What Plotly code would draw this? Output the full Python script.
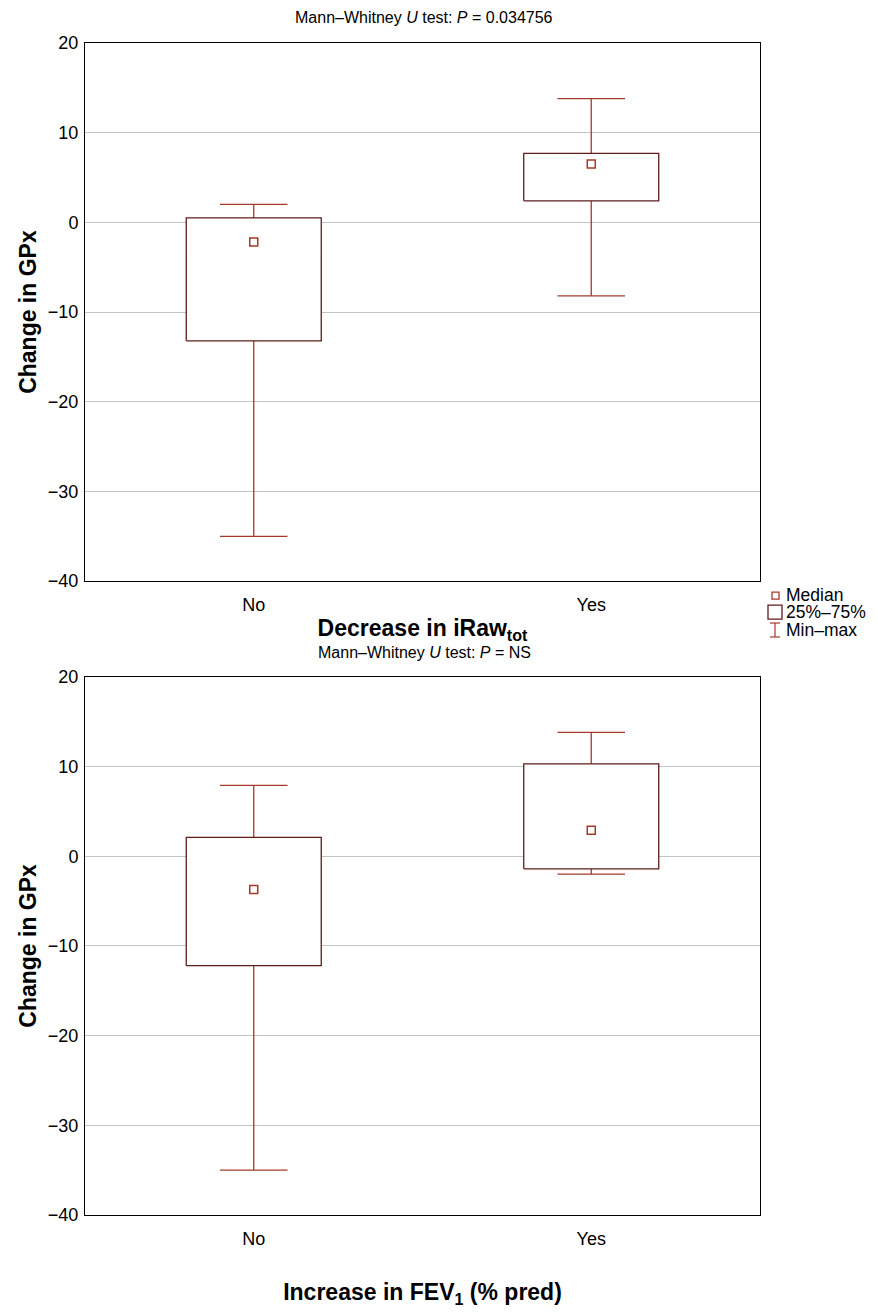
import plotly.graph_objects as go
from plotly.subplots import make_subplots

categories = ["No", "Yes"]

# Top panel: Decrease in iRaw_tot
top_min = [-35.0, -8.2]
top_q1 = [-13.2, 2.4]
top_median = [-2.2, 6.5]
top_q3 = [0.5, 7.7]
top_max = [2.0, 13.8]

# Bottom panel: Increase in FEV1
bot_min = [-35.0, -2.0]
bot_q1 = [-12.2, -1.4]
bot_median = [-3.7, 2.9]
bot_q3 = [2.1, 10.3]
bot_max = [7.9, 13.8]

y_ticks = [-40, -30, -20, -10, 0, 10, 20]

BOX_COLOR = "#5e1c1c"
WHISK_COLOR = "#a8382a"
FONT = "Liberation Sans, Arial, sans-serif"

OFF = 8  # page body margin
W, H = 870, 1305
L, R, T, B = 77, 118, 35, 94
plot_h = H - T - B
panel_h = 540

fig = make_subplots(rows=2, cols=1, vertical_spacing=(plot_h - 2 * panel_h) / plot_h)

def add_panel(row, mins, q1s, meds, q3s, maxs):
    bw, cw = 0.2, 0.1
    bx, by, wx, wy = [], [], [], []
    for i in range(len(categories)):
        bx += [i - bw, i + bw, i + bw, i - bw, i - bw, None]
        by += [q1s[i], q1s[i], q3s[i], q3s[i], q1s[i], None]
        wx += [i, i, None, i - cw, i + cw, None, i, i, None, i - cw, i + cw, None]
        wy += [q3s[i], maxs[i], None, maxs[i], maxs[i], None,
               q1s[i], mins[i], None, mins[i], mins[i], None]
    fig.add_trace(go.Scatter(x=wx, y=wy, mode="lines", line=dict(color=WHISK_COLOR, width=1.3),
                             showlegend=False, hoverinfo="skip"), row=row, col=1)
    fig.add_trace(go.Scatter(x=bx, y=by, mode="lines", fill="toself", fillcolor="white",
                             line=dict(color=BOX_COLOR, width=1.3),
                             showlegend=False, hoverinfo="skip"), row=row, col=1)
    fig.add_trace(go.Scatter(x=list(range(len(categories))), y=meds, mode="markers",
                             marker=dict(symbol="square-open", size=8, color=WHISK_COLOR,
                                         line=dict(width=1.5)),
                             showlegend=False), row=row, col=1)

add_panel(1, top_min, top_q1, top_median, top_q3, top_max)
add_panel(2, bot_min, bot_q1, bot_median, bot_q3, bot_max)

TICK_FONT = dict(size=18, color="black", family=FONT)
for r in (1, 2):
    fig.update_xaxes(range=[-0.5, 1.5], tickvals=list(range(len(categories))), ticktext=categories,
                     showgrid=False, zeroline=False, showline=True, linecolor="black", linewidth=1,
                     mirror=True, ticks="", tickfont=TICK_FONT, ticklabelstandoff=7, row=r, col=1)
    fig.update_yaxes(range=[-40, 20], tickvals=y_ticks, showgrid=True, gridcolor="#c4c4c4",
                     gridwidth=1, zeroline=False, showline=True, linecolor="black", linewidth=1,
                     mirror=True, ticks="", tickfont=TICK_FONT, ticklabelstandoff=2,
                     title=dict(text="<b>Change in GPx</b>", font=dict(size=23, color="black", family=FONT),
                                standoff=4),
                     row=r, col=1)

fig.update_xaxes(title=dict(text="<b>Decrease in iRaw<sub>tot</sub></b>",
                            font=dict(size=23, color="black", family=FONT), standoff=6), row=1, col=1)
fig.update_xaxes(title=dict(text="<b>Increase in FEV<sub>1</sub> (% pred)</b>",
                            font=dict(size=23, color="black", family=FONT), standoff=36), row=2, col=1)

def px(xp):
    return (xp - OFF - L) / (W - L - R)

def py(yp):
    return (H - B - (yp - OFF)) / plot_h

annotations = [
    dict(text="Mann–Whitney <i>U</i> test: <i>P</i> = 0.034756", x=px(424), y=py(17)),
    dict(text="Mann–Whitney <i>U</i> test: <i>P</i> = NS", x=px(424), y=py(655)),
]
for a in annotations:
    fig.add_annotation(xref="paper", yref="paper", showarrow=False, xanchor="center", yanchor="middle",
                       font=dict(size=16, color="black", family=FONT), **a)

# Custom legend
legend_items = [("Median", 597), ("25%–75%", 614), ("Min–max", 632)]
for text, yy in legend_items:
    fig.add_annotation(xref="paper", yref="paper", x=px(784), y=py(yy), text=text, showarrow=False,
                       xanchor="left", yanchor="middle", font=dict(size=17.5, color="black", family=FONT))
shapes = [
    dict(type="rect", x0=px(772), x1=px(779), y0=py(594), y1=py(601), line=dict(color=WHISK_COLOR, width=1.3)),
    dict(type="rect", x0=px(768), x1=px(782), y0=py(607), y1=py(621), line=dict(color=BOX_COLOR, width=1.3)),
    dict(type="line", x0=px(775), x1=px(775), y0=py(625), y1=py(639), line=dict(color=WHISK_COLOR, width=1.2)),
    dict(type="line", x0=px(770), x1=px(780), y0=py(625), y1=py(625), line=dict(color=WHISK_COLOR, width=1.2)),
    dict(type="line", x0=px(770), x1=px(780), y0=py(639), y1=py(639), line=dict(color=WHISK_COLOR, width=1.2)),
]
for s in shapes:
    fig.add_shape(xref="paper", yref="paper", **s)

fig.update_layout(width=W, height=H, margin=dict(l=L, r=R, t=T, b=B),
                  paper_bgcolor="white", plot_bgcolor="white", showlegend=False,
                  font=dict(family=FONT, color="black"))

fig.write_html("out.html")
